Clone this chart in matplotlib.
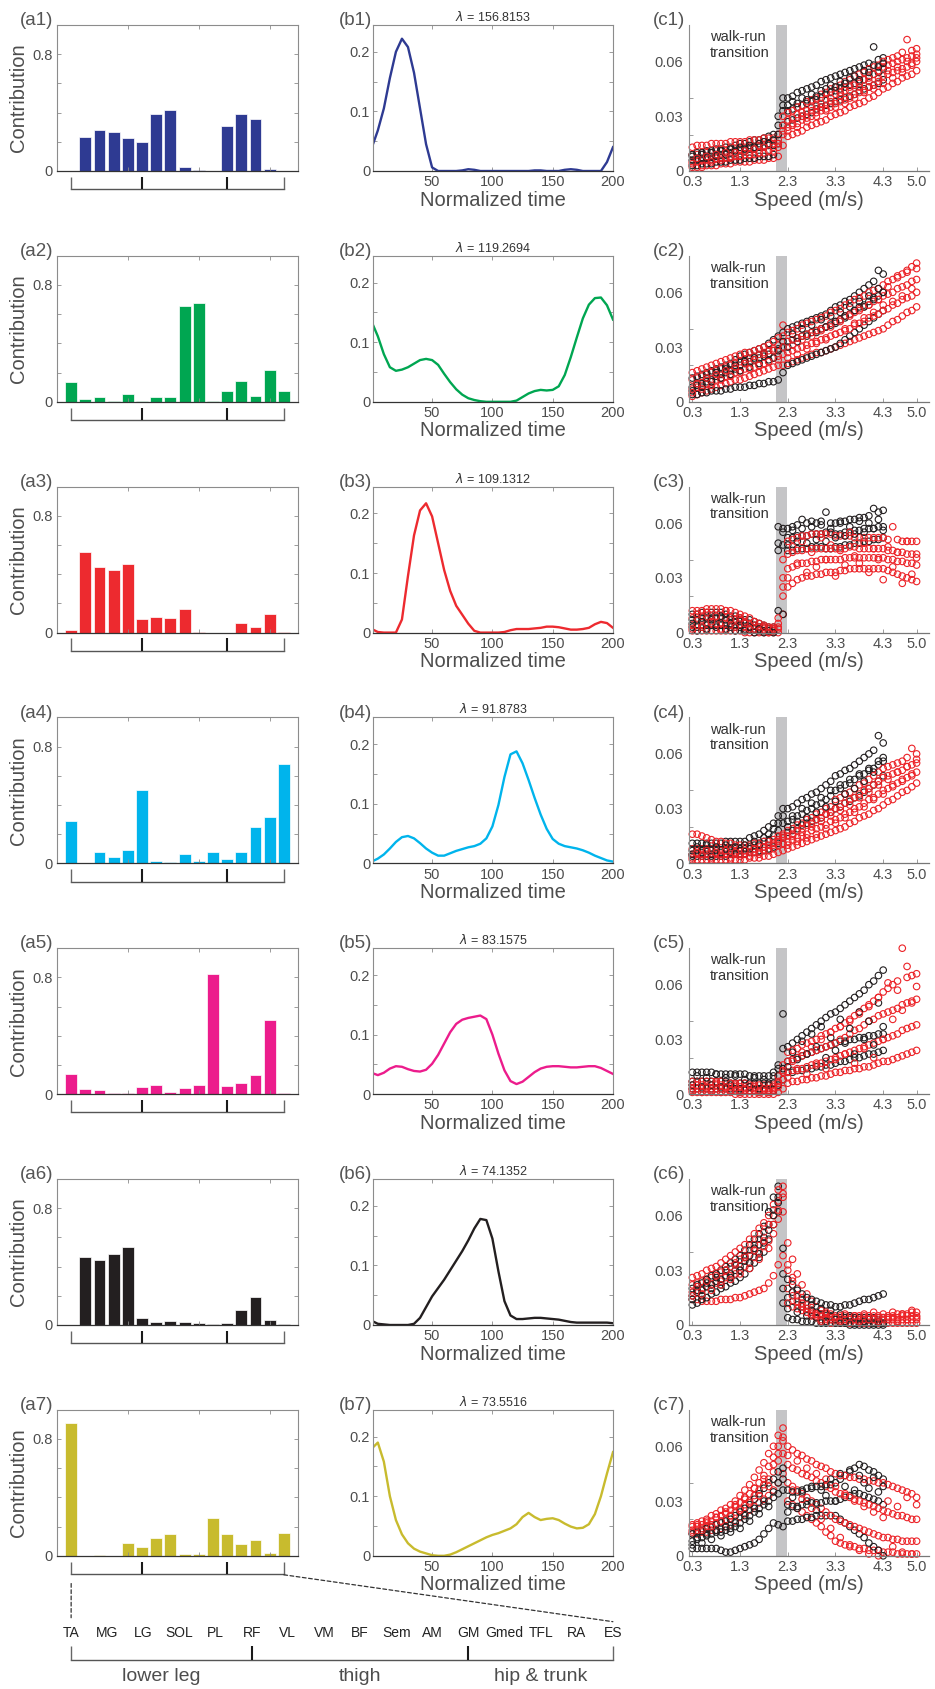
import numpy as np
import matplotlib
matplotlib.use('Agg')
import matplotlib.pyplot as plt
from matplotlib.patches import ConnectionPatch

plt.rcParams['font.family'] = ['Liberation Sans', 'DejaVu Sans']

# ============================================================
# Data
# ============================================================
muscles = ['TA', 'MG', 'LG', 'SOL', 'PL', 'RF', 'VL', 'VM', 'BF', 'Sem', 'AM',
           'GM', 'Gmed', 'TFL', 'RA', 'ES']
groups = ['lower leg', 'thigh', 'hip & trunk']
group_edges = [0, 5, 11, 15]

colors = ['#2e3a92', '#00a651', '#ed2a2f', '#00b4ec', '#ec1c8c', '#231f20', '#c8bb2e']
lambdas = ['156.8153', '119.2694', '109.1312', '91.8783', '83.1575', '74.1352', '73.5516']

# muscle contributions (a1..a7)
a1 = [0.001, .232, .284, .27, .225, .198, .391, .416, .027, .007, .001, .307, .389, .357, .011, .001]
a2 = [.135, .02, .03, .007, .054, .005, .036, .034, .653, .678, .006, .077, .142, .043, .219, .072]
a3 = [.02, .552, .452, .432, .473, .095, .105, .1, .164, .005, 0, 0, .064, .041, .127, .002]
a4 = [.289, .002, .075, .043, .095, .505, .018, .007, .061, .018, .077, .027, .077, .248, .318, .682]
a5 = [.136, .034, .032, .009, .005, .05, .066, .014, .045, .063, .823, .057, .079, .132, .508, .011]
a6 = [.001, .467, .444, .488, .535, .05, .018, .03, .018, .011, .009, .011, .1, .195, .036, .007]
a7 = [.91, .002, .003, .002, .087, .06, .123, .146, .014, .009, .258, .15, .08, .109, .018, .157]

# activation time courses (b1..b7), sampled at t = 1, 5, 10, ..., 200
t_norm = [1] + list(range(5, 201, 5))
b1 = [.045, .068, .105, .156, .2, .222, .208, .165, .105, .045, .006, 0, 0, 0, 0, .001, .003, .002, 0, 0,
      0, 0, 0, 0, 0, 0, 0, .001, .001, 0, 0, 0, .002, .003, .002, 0, 0, 0, 0, .015, .04]
b2 = [.129, .11, .08, .058, .052, .054, .058, .064, .07, .072, .07, .062, .047, .033, .021, .012, .006, .003, .001, 0,
      0, 0, 0, 0, .002, .008, .014, .018, .02, .019, .02, .026, .045, .075, .108, .14, .163, .174, .175, .162, .138]
b3 = [.005, .001, 0, 0, 0, .022, .095, .163, .205, .217, .195, .15, .105, .07, .045, .03, .015, .003, 0, 0,
      0, 0, .001, .004, .006, .006, .006, .007, .008, .01, .01, .009, .007, .005, .005, .006, .008, .014, .018, .016, .008]
b4 = [.004, .008, .015, .025, .036, .044, .046, .042, .034, .025, .018, .013, .013, .017, .021, .024, .027, .029, .033, .042,
      .062, .098, .145, .183, .188, .168, .14, .11, .082, .058, .041, .033, .029, .027, .025, .022, .018, .013, .009, .005, .003]
b5 = [.035, .032, .036, .043, .047, .046, .042, .039, .038, .041, .051, .066, .085, .104, .118, .125, .128, .13, .132, .126,
      .1, .068, .04, .022, .017, .021, .029, .037, .043, .046, .047, .047, .046, .045, .045, .046, .047, .047, .044, .039, .034]
b6 = [.006, .002, .001, 0, 0, 0, 0, .002, .012, .03, .048, .062, .076, .092, .108, .124, .142, .162, .178, .176,
      .145, .09, .04, .016, .01, .01, .011, .012, .012, .011, .01, .009, .007, .005, .004, .004, .004, .004, .004, .004, .003]
b7 = [.182, .19, .158, .1, .06, .036, .021, .012, .007, .004, .001, 0, 0, .002, .006, .011, .016, .021, .026, .031,
      .035, .038, .042, .046, .053, .065, .072, .065, .06, .062, .063, .06, .054, .049, .046, .047, .053, .07, .1, .138, .174]

# coefficients vs speed (c1..c7), values in 1e-3 units
# black rows: 0.3..4.3 m/s, red rows: 0.3..5.0 m/s
speed = [0.3, 0.4, 0.5, 0.6, 0.7, 0.8, 0.9, 1.0, 1.1, 1.2, 1.3, 1.4, 1.5, 1.6, 1.7, 1.8, 1.9, 2.0,
         2.1, 2.2, 2.3, 2.4, 2.5, 2.6, 2.7, 2.8, 2.9, 3.0, 3.1, 3.2, 3.3, 3.4, 3.5, 3.6, 3.7, 3.8,
         3.9, 4.0, 4.1, 4.2, 4.3, 4.4, 4.5, 4.6, 4.7, 4.8, 4.9, 5.0]

c1_black = [
    [3, 3, 4, 4, 4, 5, 5, 5, 6, 6, 6, 7, 7, 7, 8, 8, 8, 9, 15, 25,
     27, 28, 29, 30, 31, 32, 34, 35, 36, 37, 38, 39, 40, 41, 42, 44, 45, 46, 47, 48, 50],
    [6, 6, 7, 7, 8, 8, 9, 9, 10, 10, 11, 11, 12, 12, 13, 13, 14, 14, 25, 33,
     33, 34, 35, 36, 37, 38, 39, 40, 42, 43, 44, 45, 46, 47, 48, 49, 50, 52, 53, 54, 56],
    [9, 10, 10, 11, 11, 12, 12, 13, 13, 14, 15, 15, 16, 17, 17, 18, 19, 20, 30, 40,
     40, 41, 43, 44, 45, 46, 47, 49, 50, 51, 52, 53, 54, 55, 56, 57, 58, 59, 68, 61, 62],
    [8, 7, 9, 8, 10, 9, 11, 10, 12, 11, 13, 12, 14, 13, 15, 16, 15, 17, 20, 36,
     36, 38, 37, 40, 39, 42, 41, 44, 45, 47, 46, 49, 48, 51, 52, 50, 55, 54, 58, 57, 59],
]
c1_red = [
    [2, 2, 2, 3, 3, 3, 4, 4, 4, 5, 5, 5, 5, 6, 6, 6, 7, 7, 8, 14,
     19, 20, 21, 22, 24, 25, 26, 27, 28, 30, 31, 32, 33, 35, 36, 37, 38, 40, 41, 43, 45,
     46, 48, 49, 51, 52, 53, 55],
    [5, 5, 6, 6, 6, 7, 7, 7, 8, 8, 8, 9, 9, 9, 10, 10, 11, 11, 13, 20,
     24, 25, 26, 28, 29, 30, 32, 33, 34, 35, 37, 38, 39, 40, 42, 43, 44, 46, 47, 49, 52,
     53, 54, 55, 56, 57, 59, 60],
    [9, 9, 10, 10, 10, 11, 11, 11, 12, 12, 12, 13, 13, 13, 14, 14, 15, 15, 17, 25,
     28, 29, 31, 32, 33, 35, 36, 37, 39, 40, 42, 43, 44, 46, 47, 48, 50, 51, 53, 55, 57,
     58, 59, 60, 61, 62, 63, 64],
    [13, 14, 14, 14, 15, 15, 15, 15, 16, 16, 16, 16, 17, 17, 17, 18, 18, 18, 20, 30,
     32, 33, 35, 36, 38, 39, 40, 42, 43, 45, 46, 47, 49, 50, 52, 53, 54, 56, 57, 58, 60,
     61, 62, 63, 65, 72, 66, 67],
    [4, 7, 3, 8, 5, 9, 6, 10, 7, 10, 8, 11, 9, 12, 10, 13, 11, 13, 15, 22,
     22, 26, 24, 30, 27, 33, 30, 35, 33, 38, 35, 41, 37, 44, 40, 46, 43, 49, 45, 51, 48,
     55, 51, 57, 54, 60, 58, 62],
]

c2_black = [
    [4, 4, 5, 5, 6, 6, 6, 7, 7, 8, 8, 8, 9, 9, 10, 10, 11, 11, 12, 16,
     20, 21, 22, 23, 24, 25, 26, 27, 28, 29, 30, 32, 34, 36, 38, 40, 42, 44, 46, 48, 50],
    [8, 9, 10, 11, 12, 14, 15, 16, 17, 18, 20, 21, 22, 23, 24, 25, 26, 28, 29, 30,
     33, 34, 35, 36, 37, 38, 39, 40, 41, 42, 43, 45, 46, 48, 50, 52, 53, 55, 57, 58, 60],
    [13, 14, 15, 16, 17, 18, 19, 20, 21, 23, 25, 26, 27, 28, 29, 30, 32, 34, 36, 38,
     40, 41, 42, 43, 44, 45, 46, 47, 48, 50, 52, 53, 55, 56, 58, 60, 62, 64, 66, 72, 70],
    [6, 10, 8, 13, 11, 16, 13, 18, 15, 20, 17, 22, 19, 24, 21, 26, 23, 24, 28, 33,
     30, 37, 33, 40, 36, 42, 38, 45, 41, 47, 44, 49, 47, 52, 50, 55, 52, 58, 56, 62, 60],
]
c2_red = [
    [3, 4, 5, 6, 7, 8, 9, 10, 11, 12, 12, 13, 14, 15, 16, 17, 18, 19, 20, 20,
     21, 22, 23, 24, 25, 26, 27, 27, 28, 29, 30, 31, 32, 33, 34, 35, 36, 37, 38, 39, 40,
     42, 44, 45, 47, 49, 50, 52],
    [7, 8, 9, 10, 11, 12, 13, 14, 15, 16, 17, 18, 18, 19, 20, 21, 22, 24, 25, 26,
     27, 28, 29, 30, 31, 32, 33, 34, 35, 36, 37, 38, 39, 40, 42, 43, 44, 46, 47, 48, 50,
     51, 53, 54, 56, 57, 58, 60],
    [12, 13, 14, 15, 16, 17, 18, 19, 20, 21, 22, 23, 24, 25, 26, 27, 28, 29, 31, 42,
     33, 34, 35, 36, 37, 38, 39, 40, 41, 43, 44, 45, 47, 48, 49, 51, 52, 53, 55, 56, 58,
     59, 60, 62, 63, 64, 66, 67],
    [16, 17, 18, 19, 20, 21, 22, 23, 24, 25, 26, 27, 27, 28, 29, 30, 31, 33, 35, 36,
     38, 39, 40, 42, 43, 44, 45, 46, 47, 49, 50, 51, 53, 54, 56, 57, 58, 60, 61, 62, 64,
     66, 67, 69, 70, 72, 74, 76],
    [5, 10, 7, 13, 9, 15, 12, 17, 14, 19, 16, 21, 18, 23, 20, 26, 22, 28, 23, 30,
     24, 31, 26, 34, 29, 36, 32, 39, 34, 41, 37, 44, 40, 47, 43, 50, 46, 53, 49, 56, 53,
     63, 55, 68, 58, 71, 62, 73],
]

c3_black = [
    [3, 3, 3, 4, 4, 4, 4, 4, 3, 3, 3, 2, 2, 2, 1, 1, 1, 1, 12, 10,
     45, 45, 46, 46, 46, 47, 47, 47, 46, 46, 47, 47, 48, 48, 49, 49, 50, 50, 51, 51, 52],
    [7, 7, 8, 8, 8, 8, 8, 7, 7, 6, 6, 5, 5, 4, 3, 3, 2, 2, 45, 48,
     52, 52, 53, 53, 53, 54, 54, 54, 55, 55, 54, 54, 55, 55, 56, 56, 57, 57, 57, 58, 58],
    [10, 10, 11, 11, 11, 11, 11, 10, 9, 9, 8, 7, 7, 6, 5, 4, 3, 3, 58, 57,
     57, 58, 59, 62, 60, 61, 60, 61, 66, 60, 60, 61, 61, 62, 62, 63, 63, 64, 68, 66, 67],
    [5, 1, 6, 2, 7, 3, 9, 2, 5, 1, 4, 1, 3, 0, 2, 0, 1, 0, 49, 55,
     48, 56, 50, 57, 49, 58, 51, 59, 50, 57, 52, 60, 53, 58, 54, 61, 55, 60, 57, 62, 56],
]
c3_red = [
    [1, 1, 1, 1, 1, 1, 1, 1, 1, 1, 1, 0, 0, 0, 0, 0, 0, 0, 0, 10,
     25, 27, 29, 30, 31, 31, 32, 32, 33, 33, 33, 34, 34, 35, 35, 35, 35, 35, 35, 35, 35,
     34, 33, 32, 31, 30, 29, 28],
    [4, 4, 4, 5, 5, 5, 5, 5, 4, 4, 4, 3, 3, 2, 2, 2, 1, 1, 2, 20,
     35, 36, 37, 38, 38, 39, 39, 40, 40, 40, 40, 40, 41, 41, 41, 41, 41, 41, 41, 41, 41,
     40, 40, 39, 39, 38, 38, 37],
    [8, 8, 9, 9, 9, 9, 9, 8, 8, 7, 7, 6, 5, 4, 3, 3, 2, 2, 5, 30,
     43, 44, 45, 45, 46, 46, 46, 46, 46, 46, 46, 46, 46, 47, 47, 46, 46, 46, 46, 46, 46,
     45, 45, 44, 44, 43, 43, 43],
    [12, 12, 12, 13, 13, 13, 13, 12, 12, 11, 10, 9, 8, 6, 5, 4, 3, 3, 8, 40,
     50, 51, 52, 53, 53, 54, 54, 54, 54, 54, 53, 53, 53, 53, 52, 52, 52, 52, 52, 52, 52,
     51, 58, 51, 50, 50, 50, 50],
    [2, 10, 3, 11, 6, 9, 2, 12, 7, 3, 8, 5, 2, 6, 1, 3, 0, 2, 3, 25,
     30, 47, 38, 50, 33, 44, 36, 52, 40, 48, 31, 45, 37, 55, 42, 38, 49, 33, 46, 40, 29,
     47, 36, 44, 27, 50, 32, 41],
]

c4_black = [
    [4, 4, 4, 4, 4, 4, 4, 4, 5, 5, 5, 5, 6, 6, 7, 7, 8, 9, 11, 14,
     17, 18, 19, 21, 22, 23, 24, 25, 27, 28, 30, 31, 33, 34, 36, 37, 39, 41, 43, 45, 48],
    [7, 7, 7, 7, 7, 7, 7, 8, 8, 8, 8, 8, 9, 10, 11, 12, 13, 15, 18, 22,
     23, 24, 26, 27, 29, 30, 32, 33, 35, 37, 40, 41, 43, 44, 46, 48, 49, 51, 52, 54, 56],
    [11, 11, 11, 11, 11, 11, 11, 12, 12, 12, 12, 12, 14, 15, 16, 18, 20, 22, 26, 30,
     30, 31, 33, 35, 36, 38, 39, 41, 43, 45, 48, 49, 51, 52, 54, 56, 58, 60, 62, 70, 66],
    [5, 9, 6, 10, 5, 9, 6, 10, 6, 9, 7, 10, 8, 12, 10, 14, 16, 19, 22, 26,
     20, 26, 23, 30, 25, 33, 28, 36, 31, 40, 34, 43, 38, 46, 41, 49, 45, 52, 50, 56, 58],
]
c4_red = [
    [2, 2, 2, 2, 2, 2, 2, 2, 2, 2, 2, 2, 3, 3, 3, 4, 4, 5, 6, 7,
     8, 9, 10, 11, 12, 13, 14, 15, 16, 17, 18, 19, 20, 22, 23, 25, 26, 27, 29, 30, 32,
     34, 35, 37, 39, 40, 42, 44],
    [5, 5, 5, 5, 5, 5, 5, 5, 5, 5, 5, 5, 6, 6, 6, 7, 7, 8, 10, 11,
     12, 13, 14, 15, 16, 18, 19, 20, 21, 23, 24, 25, 27, 28, 30, 31, 33, 35, 36, 38, 40,
     41, 43, 44, 46, 47, 49, 50],
    [8, 8, 8, 8, 8, 8, 7, 7, 7, 7, 7, 7, 8, 8, 9, 9, 10, 11, 13, 14,
     15, 16, 18, 19, 21, 22, 24, 25, 27, 28, 30, 31, 33, 35, 36, 38, 40, 41, 43, 45, 47,
     48, 49, 50, 51, 53, 54, 55],
    [16, 16, 15, 14, 13, 12, 12, 11, 11, 10, 10, 10, 10, 11, 11, 12, 12, 13, 15, 16,
     18, 19, 21, 22, 24, 25, 27, 28, 30, 31, 35, 36, 38, 39, 41, 43, 44, 46, 48, 50, 52,
     53, 54, 55, 56, 58, 63, 60],
    [3, 6, 4, 7, 3, 6, 4, 7, 3, 6, 4, 7, 4, 8, 5, 9, 7, 10, 12, 15,
     10, 15, 12, 17, 14, 20, 16, 23, 19, 26, 22, 29, 25, 32, 28, 36, 31, 39, 35, 43, 38,
     46, 42, 50, 45, 53, 48, 57],
]

c5_black = [
    [3, 3, 3, 3, 3, 3, 3, 3, 3, 3, 2, 2, 2, 2, 2, 2, 2, 2, 5, 8,
     12, 12, 13, 13, 14, 14, 15, 15, 16, 16, 17, 18, 18, 19, 20, 20, 21, 22, 22, 23, 24],
    [7, 7, 7, 7, 7, 7, 7, 7, 6, 6, 6, 6, 6, 6, 6, 6, 6, 6, 10, 14,
     18, 19, 20, 21, 22, 23, 24, 25, 26, 27, 28, 29, 29, 30, 30, 31, 31, 32, 32, 33, 33],
    [12, 12, 12, 12, 12, 11, 11, 11, 11, 11, 11, 11, 10, 10, 10, 10, 10, 10, 16, 44,
     26, 28, 30, 32, 34, 36, 38, 40, 42, 44, 45, 47, 49, 51, 53, 55, 57, 60, 62, 65, 68],
    [5, 10, 4, 9, 5, 11, 4, 9, 5, 10, 3, 8, 4, 9, 3, 8, 5, 12, 14, 25,
     15, 23, 19, 29, 22, 33, 26, 37, 20, 31, 24, 41, 28, 36, 22, 45, 30, 40, 27, 50, 37],
]
c5_red = [
    [1, 1, 1, 1, 1, 1, 1, 1, 1, 0, 0, 0, 0, 0, 0, 0, 0, 0, 1, 3,
     6, 7, 7, 8, 8, 9, 9, 10, 10, 11, 12, 12, 13, 13, 14, 14, 15, 15, 16, 17, 18,
     18, 19, 20, 21, 22, 23, 24],
    [3, 3, 3, 3, 3, 3, 3, 3, 2, 2, 2, 2, 2, 2, 2, 2, 2, 2, 4, 8,
     12, 13, 14, 14, 15, 16, 17, 17, 18, 19, 20, 21, 22, 23, 24, 25, 26, 27, 28, 29, 30,
     31, 32, 33, 35, 36, 37, 38],
    [5, 5, 5, 5, 5, 5, 5, 4, 4, 4, 4, 4, 4, 3, 3, 3, 3, 3, 7, 12,
     18, 19, 20, 21, 22, 23, 24, 25, 26, 27, 28, 30, 31, 33, 35, 36, 38, 40, 41, 43, 44,
     45, 46, 47, 49, 50, 51, 52],
    [7, 7, 7, 7, 7, 7, 7, 6, 6, 6, 6, 6, 5, 5, 5, 5, 5, 5, 10, 16,
     23, 24, 25, 27, 28, 29, 30, 32, 33, 34, 36, 37, 39, 41, 43, 45, 47, 49, 51, 53, 56,
     58, 60, 62, 80, 64, 65, 66],
    [2, 5, 1, 4, 2, 6, 1, 4, 2, 5, 1, 3, 2, 4, 1, 3, 1, 4, 6, 13,
     9, 18, 13, 23, 11, 26, 16, 30, 14, 34, 19, 37, 22, 40, 17, 44, 25, 48, 20, 53, 30,
     61, 41, 57, 46, 70, 50, 59],
]

c6_black = [
    [11, 12, 14, 15, 17, 18, 20, 21, 23, 24, 26, 28, 31, 34, 37, 40, 47, 55, 62, 12,
     4, 3, 3, 2, 2, 2, 1, 1, 1, 1, 1, 1, 1, 0, 0, 0, 0, 0, 0, 0, 0],
    [16, 18, 19, 21, 22, 24, 25, 27, 28, 30, 32, 35, 38, 41, 44, 48, 55, 63, 70, 28,
     15, 13, 11, 10, 9, 8, 7, 6, 5, 5, 4, 4, 4, 4, 4, 4, 4, 4, 4, 4, 4],
    [20, 22, 23, 25, 27, 28, 30, 32, 34, 36, 38, 41, 44, 47, 50, 54, 62, 70, 76, 42,
     25, 22, 19, 17, 15, 14, 13, 12, 11, 11, 10, 10, 11, 11, 12, 13, 14, 14, 15, 16, 17],
    [14, 19, 16, 23, 20, 26, 22, 30, 26, 33, 30, 37, 34, 42, 39, 45, 52, 60, 67, 20,
     9, 18, 7, 14, 5, 11, 4, 9, 2, 8, 3, 6, 2, 5, 1, 4, 2, 3, 1, 2, 1],
]
c6_red = [
    [14, 14, 13, 13, 13, 13, 14, 14, 14, 15, 15, 16, 17, 18, 19, 20, 23, 27, 33, 38,
     33, 26, 20, 15, 11, 8, 6, 5, 4, 3, 1, 1, 1, 1, 1, 1, 1, 1, 1, 1, 1,
     1, 1, 1, 1, 1, 1, 1],
    [18, 19, 20, 21, 22, 23, 24, 26, 27, 28, 30, 32, 34, 37, 40, 43, 46, 50, 58, 62,
     45, 36, 28, 22, 17, 13, 10, 8, 6, 4, 3, 3, 3, 3, 3, 3, 3, 3, 3, 3, 3,
     3, 3, 3, 3, 3, 3, 3],
    [22, 23, 24, 25, 26, 28, 29, 30, 32, 34, 36, 38, 41, 44, 47, 51, 55, 60, 68, 72,
     20, 16, 13, 10, 7, 5, 4, 3, 3, 3, 3, 3, 3, 3, 3, 3, 3, 3, 3, 4, 4,
     4, 4, 4, 5, 5, 5, 5],
    [26, 27, 28, 30, 31, 32, 34, 36, 38, 40, 42, 44, 47, 50, 53, 56, 60, 66, 74, 76,
     12, 10, 9, 8, 7, 7, 6, 6, 6, 6, 5, 5, 5, 5, 5, 5, 5, 5, 5, 5, 4,
     5, 5, 6, 6, 6, 7, 7],
    [16, 21, 17, 24, 19, 27, 22, 30, 25, 33, 28, 37, 31, 41, 36, 46, 42, 55, 63, 70,
     30, 24, 16, 12, 9, 6, 5, 2, 7, 1, 4, 2, 6, 1, 5, 2, 6, 3, 7, 2, 6,
     3, 7, 2, 6, 3, 8, 4],
]

c7_black = [
    [4, 4, 4, 4, 4, 4, 3, 2, 2, 3, 4, 5, 6, 7, 9, 12, 15, 18, 17, 16,
     19, 19, 20, 20, 21, 21, 22, 22, 22, 22, 22, 20, 18, 16, 14, 12, 10, 7, 5, 3, 0],
    [8, 9, 10, 11, 12, 13, 13, 14, 15, 16, 18, 20, 22, 24, 26, 28, 30, 32, 34, 36,
     28, 27, 27, 28, 28, 29, 29, 29, 30, 30, 30, 31, 32, 33, 34, 34, 33, 32, 31, 30, 28],
    [12, 13, 14, 15, 16, 17, 18, 19, 20, 22, 24, 26, 28, 31, 34, 37, 40, 42, 46, 48,
     36, 35, 35, 36, 37, 37, 38, 38, 39, 39, 40, 42, 44, 46, 48, 50, 49, 47, 46, 44, 42],
    [6, 10, 7, 12, 9, 14, 11, 16, 13, 18, 15, 22, 19, 26, 23, 30, 27, 35, 40, 42,
     24, 32, 26, 35, 30, 38, 25, 36, 33, 42, 30, 45, 38, 47, 36, 44, 40, 37, 43, 35, 38],
]
c7_red = [
    [12, 12, 13, 13, 14, 14, 15, 16, 17, 19, 21, 23, 25, 27, 29, 31, 33, 36, 40, 45,
     30, 28, 26, 24, 22, 20, 18, 16, 13, 11, 8, 7, 6, 5, 5, 4, 4, 3, 3, 3, 2,
     2, 2, 1, 1, 1, 1, 1],
    [14, 14, 15, 16, 17, 18, 19, 20, 22, 24, 26, 28, 30, 33, 36, 39, 42, 46, 52, 56,
     40, 38, 36, 34, 32, 30, 28, 26, 24, 22, 20, 19, 18, 17, 16, 15, 14, 13, 12, 11, 10,
     10, 9, 9, 8, 8, 8, 8],
    [16, 16, 17, 18, 19, 21, 22, 23, 25, 27, 29, 31, 34, 37, 40, 44, 49, 54, 60, 63,
     50, 48, 47, 45, 44, 43, 41, 40, 38, 37, 35, 34, 33, 32, 31, 30, 29, 28, 27, 26, 25,
     24, 23, 22, 22, 21, 20, 20],
    [17, 18, 19, 20, 22, 23, 25, 26, 28, 30, 33, 36, 39, 43, 47, 51, 56, 60, 66, 70,
     60, 58, 56, 55, 53, 52, 50, 49, 48, 46, 45, 44, 44, 43, 43, 42, 42, 41, 41, 40, 40,
     39, 38, 37, 36, 35, 34, 32],
    [13, 17, 14, 19, 16, 21, 19, 24, 22, 28, 25, 32, 29, 37, 33, 42, 38, 50, 56, 65,
     55, 36, 52, 31, 48, 26, 45, 20, 42, 15, 38, 10, 34, 6, 30, 3, 27, 1, 24, 0, 21,
     30, 5, 27, 2, 32, 1, 28],
]

contrib = [a1, a2, a3, a4, a5, a6, a7]
curves = [b1, b2, b3, b4, b5, b6, b7]
scatter_black = [c1_black, c2_black, c3_black, c4_black, c5_black, c6_black, c7_black]
scatter_red = [c1_red, c2_red, c3_red, c4_red, c5_red, c6_red, c7_red]

# ============================================================
# Figure
# ============================================================
FIG_W, FIG_H = 935, 1689
fig = plt.figure(figsize=(FIG_W / 100, FIG_H / 100), dpi=100)

TXT = '#4d4d4d'
SPINE = '#8c8c8c'
DARK = '#333333'
BLACK_PT = '#231f20'
RED_PT = '#ec2227'


def px_axes(left, top, width, height):
    return fig.add_axes([left / FIG_W, 1 - (top + height) / FIG_H, width / FIG_W, height / FIG_H])


def style(ax, box=True):
    for s in ['left', 'right', 'top']:
        ax.spines[s].set_color(SPINE)
        ax.spines[s].set_linewidth(0.8)
    ax.spines['bottom'].set_color(DARK if box else '#666666')
    ax.spines['bottom'].set_linewidth(0.9)
    if not box:
        ax.spines['right'].set_visible(False)
        ax.spines['top'].set_visible(False)
    ax.tick_params(which='both', direction='in', length=3, width=0.6, color=SPINE,
                   labelcolor=TXT, labelsize=10.5, top=box, right=box, pad=3)


def panel_label(ax, text, dx):
    ax.text(dx, 1.03, text, transform=ax.transAxes, ha='right', va='center',
            fontsize=13.5, color='#555555')


x_idx = np.arange(len(muscles))
H = 146
for i in range(7):
    top = 25 + 230.8 * i

    # ---- (a) muscle weights ----
    ax = px_axes(57, top, 241, H)
    ax.bar(x_idx, contrib[i], width=0.84, color=colors[i], edgecolor='white', linewidth=0.5)
    ax.set_xlim(-1, 16)
    ax.set_ylim(0, 1.0)
    ax.set_yticks([0, 0.2, 0.4, 0.6, 0.8, 1.0])
    ax.set_yticklabels(['0', '', '', '', '0.8', ''])
    ax.set_xticks([4, 9, 14])
    ax.set_xticklabels([])
    style(ax)
    ax.set_ylabel('Contribution', fontsize=14.5, color=TXT, labelpad=3)
    panel_label(ax, f'(a{i + 1})', -0.017)
    tr = ax.get_xaxis_transform()
    yb, yt = -0.125, -0.04
    ax.plot([group_edges[0], group_edges[-1]], [yb, yb], transform=tr, color='#555555',
            lw=1.0, clip_on=False)
    for k in group_edges:
        inner = k not in (group_edges[0], group_edges[-1])
        ax.plot([k, k], [yb, yt], transform=tr, color='#1a1a1a' if inner else '#666666',
                lw=1.5 if inner else 1.0, clip_on=False, solid_capstyle='butt')
    if i == 6:
        ax_a7 = ax

    # ---- (b) activation patterns ----
    ax = px_axes(373, top, 240, H)
    ax.plot(t_norm, curves[i], color=colors[i], lw=1.7, solid_joinstyle='round')
    ax.set_xlim(1, 200)
    ax.set_ylim(0, 0.245)
    ax.set_xticks([50, 100, 150, 200])
    ax.set_yticks([0, 0.05, 0.1, 0.15, 0.2])
    ax.set_yticklabels(['0', '', '0.1', '', '0.2'])
    style(ax)
    ax.tick_params(axis='y', pad=2)
    ax.set_xlabel('Normalized time', fontsize=14.5, color=TXT, labelpad=1)
    ax.text(0.5, 1.055, f'$\\lambda$ = {lambdas[i]}', transform=ax.transAxes, ha='center',
            va='center', fontsize=9, color='#333333')
    panel_label(ax, f'(b{i + 1})', -0.004)

    # ---- (c) coefficients vs speed ----
    ax = px_axes(689, top, 240, H)
    ax.axvspan(2.06, 2.29, color='#c5c5c7', lw=0, zorder=0)
    ax.text(0.088, 0.965, 'walk-run\ntransition', transform=ax.transAxes, ha='left',
            va='top', fontsize=10.5, color='#333333', linespacing=1.15, zorder=1)
    reds, blacks = scatter_red[i], scatter_black[i]
    for j in range(max(len(reds), len(blacks))):
        if j < len(reds):
            row = reds[j]
            ax.scatter(speed[:len(row)], np.array(row) * 1e-3, s=22, facecolors='none',
                       edgecolors=RED_PT, linewidths=0.8, zorder=2, clip_on=False)
        if j < len(blacks):
            row = blacks[j]
            ax.scatter(speed[:len(row)], np.array(row) * 1e-3, s=22, facecolors='none',
                       edgecolors=BLACK_PT, linewidths=0.8, zorder=2, clip_on=False)
    ax.set_xlim(0.23, 5.26)
    ax.set_ylim(0, 0.08)
    ax.set_xticks([0.3, 1.3, 2.3, 3.3, 4.3, 5.0])
    ax.set_xticklabels(['0.3', '1.3', '2.3', '3.3', '4.3', '5.0'])
    ax.set_yticks([0, 0.03, 0.06])
    ax.set_yticklabels(['0', '0.03', '0.06'])
    ax.set_yticks([0.02, 0.04, 0.06], minor=True)
    style(ax, box=False)
    ax.spines['left'].set_color(SPINE)
    ax.spines['bottom'].set_color('#777777')
    ax.tick_params(axis='y', which='major', length=0, pad=4)
    ax.set_xlabel('Speed (m/s)', fontsize=14.5, color=TXT, labelpad=1)
    panel_label(ax, f'(c{i + 1})', -0.017)

# ---- muscle key under the last row ----
leg = px_axes(35, 1590, 614, 99)
leg.set_xlim(-1, 16)
leg.set_ylim(0, 1)
leg.axis('off')
for k, name in enumerate(muscles):
    leg.text(k, 0.57, name, ha='center', va='center', fontsize=10, color='#222222')
leg.plot([group_edges[0], group_edges[-1]], [0.29, 0.29], color='#555555', lw=1.0)
for k in group_edges:
    inner = k not in (group_edges[0], group_edges[-1])
    leg.plot([k, k], [0.29, 0.43], color='#1a1a1a' if inner else '#666666',
             lw=1.5 if inner else 1.0, solid_capstyle='butt')
for g, name in enumerate(groups):
    leg.text((group_edges[g] + group_edges[g + 1]) / 2, 0.13, name, ha='center',
             va='center', fontsize=14, color=TXT)

for k, ya, yb_ in [(group_edges[0], -0.19, 0.72), (group_edges[-1], -0.13, 0.68)]:
    con = ConnectionPatch(xyA=(k, ya), coordsA=ax_a7.get_xaxis_transform(),
                          xyB=(k, yb_), coordsB=leg.get_xaxis_transform(),
                          linestyle=(0, (3, 2)), color='#333333', lw=0.9)
    fig.add_artist(con)

fig.savefig('out.png', dpi=100)
